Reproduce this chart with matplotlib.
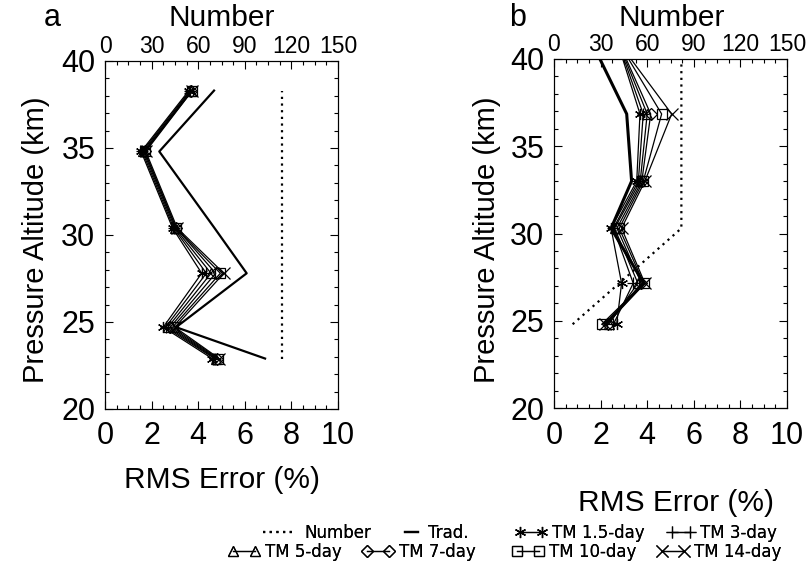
import matplotlib
matplotlib.use("Agg")
import matplotlib.pyplot as plt
from matplotlib.ticker import MultipleLocator

plt.rcParams["font.family"] = "Liberation Sans"

# panel a: altitudes (km), number of profiles and RMS errors (%)
alt_a = [22.9, 24.7, 27.8, 30.4, 34.8, 38.3]
number_a = [114, 114, 114, 114, 114, 114]
trad_a = [6.87, 3.05, 6.08, 4.7, 2.33, 4.68]
tm15_a = [4.6, 2.5, 4.15, 2.9, 1.55, 3.6]
tm3_a = [4.7, 2.6, 4.35, 2.95, 1.6, 3.65]
tm5_a = [4.75, 2.7, 4.55, 3.0, 1.65, 3.7]
tm7_a = [4.8, 2.8, 4.75, 3.05, 1.7, 3.7]
tm10_a = [4.85, 2.9, 4.95, 3.05, 1.7, 3.75]
tm14_a = [4.9, 3.0, 5.1, 3.1, 1.75, 3.75]

# panel b
alt_b = [24.8, 27.15, 30.3, 33.0, 36.85, 40.0]
number_b = [12, 42, 82, 82, 82, 82]
trad_b = [2.2, 3.85, 2.45, 3.33, 3.12, 1.97]
tm15_b = [2.69, 2.9, 2.45, 3.55, 3.69, 2.95]
tm3_b = [2.55, 3.4, 2.55, 3.62, 3.83, 3.0]
tm5_b = [2.35, 3.6, 2.6, 3.7, 4.0, 3.05]
tm7_b = [2.3, 3.75, 2.7, 3.77, 4.15, 3.1]
tm10_b = [2.05, 3.85, 2.8, 3.83, 4.62, 3.2]
tm14_b = [2.2, 3.9, 2.9, 3.9, 5.05, 3.3]

tm_labels = ["TM 1.5-day", "TM 3-day", "TM 5-day", "TM 7-day", "TM 10-day", "TM 14-day"]
tm_markers = [(6, 2, 0), "+", "^", "D", "s", "x"]
tm_sizes = [8, 9, 7, 6, 7, 8]


def setup_axes(ax):
    ax.set_xlim(0, 10)
    ax.set_ylim(20, 40)
    ax.xaxis.set_major_locator(MultipleLocator(2))
    ax.xaxis.set_minor_locator(MultipleLocator(0.5))
    ax.yaxis.set_major_locator(MultipleLocator(5))
    ax.yaxis.set_minor_locator(MultipleLocator(1))
    ax.tick_params(which="both", direction="in", top=False, right=True, width=0.8)
    ax.tick_params(which="major", length=5.5)
    ax.tick_params(which="minor", length=3)
    ax.tick_params(axis="x", labelsize=22, pad=9)
    ax.tick_params(axis="y", labelsize=22, pad=7)
    for s in ax.spines.values():
        s.set_linewidth(0.8)
    top = ax.twiny()
    top.set_xlim(0, 150)
    top.xaxis.set_major_locator(MultipleLocator(30))
    top.xaxis.set_minor_locator(MultipleLocator(7.5))
    top.tick_params(which="both", direction="in", width=0.8, labelsize=16.5, pad=2)
    top.tick_params(which="major", length=5.5)
    top.tick_params(which="minor", length=3)
    return top


def draw_panel(ax, top, alt, number, trad, tms, trad_lw, marker_end):
    h_num, = top.plot(number, alt, color="black", linestyle=(0, (1, 2)), linewidth=1.6, label="Number")
    h_trad, = ax.plot(trad, alt, color="black", linewidth=trad_lw, label="Trad.")
    handles = [h_num, h_trad]
    for vals, lab, mk, ms in zip(tms, tm_labels, tm_markers, tm_sizes):
        h, = ax.plot(vals, alt, color="black", linewidth=0.9, marker=mk, markersize=ms,
                     markerfacecolor="none", markeredgewidth=0.9,
                     markevery=slice(0, marker_end), label=lab)
        handles.append(h)
    return handles


fig = plt.figure(figsize=(8.07, 5.64), dpi=100)
ax_a = fig.add_axes([105 / 807, 1 - 409 / 564, 233 / 807, 348 / 564])
ax_b = fig.add_axes([554 / 807, 1 - 408 / 564, 233 / 807, 349 / 564])

top_a = setup_axes(ax_a)
top_b = setup_axes(ax_b)

handles = draw_panel(ax_a, top_a, alt_a, number_a, trad_a,
                     [tm15_a, tm3_a, tm5_a, tm7_a, tm10_a, tm14_a], 1.6, 6)
draw_panel(ax_b, top_b, alt_b, number_b, trad_b,
           [tm15_b, tm3_b, tm5_b, tm7_b, tm10_b, tm14_b], 2.2, 5)

# titles and axis labels
fig.text(52 / 807, 1 - 18 / 564, "a", fontsize=22, ha="center", va="center")
fig.text(518 / 807, 1 - 18 / 564, "b", fontsize=22, ha="center", va="center")
fig.text(222 / 807, 1 - 18 / 564, "Number", fontsize=21.5, ha="center", va="center")
fig.text(672 / 807, 1 - 18 / 564, "Number", fontsize=21.5, ha="center", va="center")
fig.text(222 / 807, 1 - 480 / 564, "RMS Error (%)", fontsize=21.5, ha="center", va="center")
fig.text(676 / 807, 1 - 503 / 564, "RMS Error (%)", fontsize=21.5, ha="center", va="center")
fig.text(36 / 807, 1 - 240 / 564, "Pressure Altitude (km)", fontsize=21, rotation=90,
         ha="center", va="center")
fig.text(487 / 807, 1 - 240 / 564, "Pressure Altitude (km)", fontsize=21, rotation=90,
         ha="center", va="center")

# legend: one small legend per entry, two rows
leg_x = [258, 400, 515, 667, 228, 362, 512, 657]
leg_y = [533, 533, 533, 533, 552, 552, 552, 552]
leg_len = [2.5, 1.4, 1.9, 1.7, 1.9, 1.9, 1.9, 1.9]
for h, x, y, hl in zip(handles, leg_x, leg_y, leg_len):
    leg = fig.legend(handles=[h], loc="center left", bbox_to_anchor=(x / 807, 1 - y / 564),
                     frameon=False, prop={"family": "DejaVu Sans", "size": 12},
                     handlelength=hl, handletextpad=0.3, borderpad=0, borderaxespad=0,
                     numpoints=2)
    fig.add_artist(leg)

fig.savefig("out.png", dpi=100)
